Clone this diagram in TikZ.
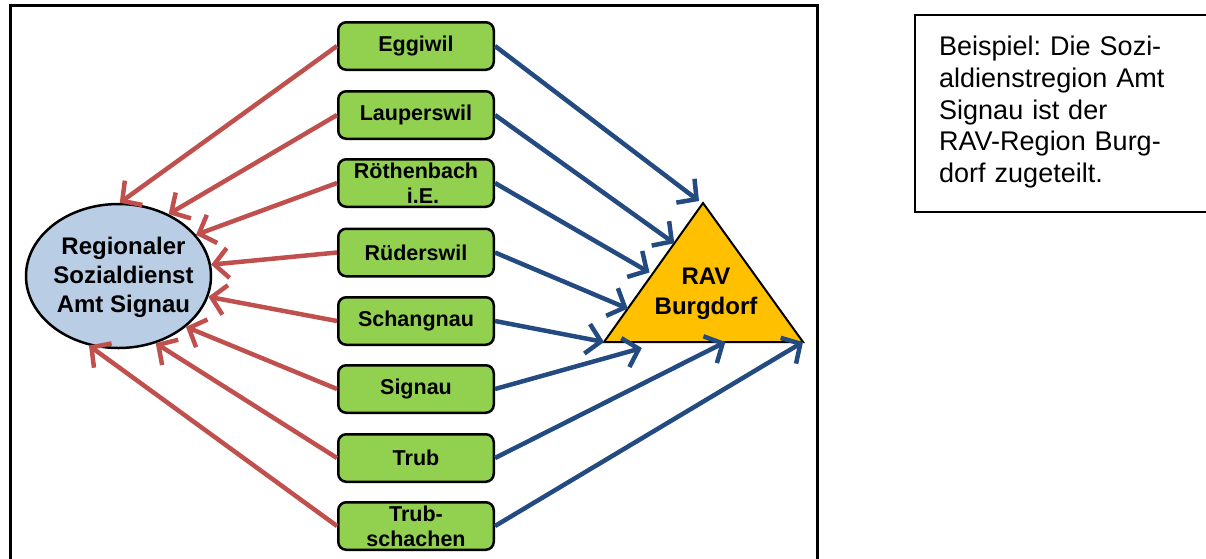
\documentclass[tikz,border=0pt]{standalone}
\usepackage{fontspec}
\setmainfont{Liberation Sans}
\usetikzlibrary{arrows.meta,shapes.geometric,calc}
\definecolor{boxgreen}{RGB}{146,208,80}
\definecolor{ellblue}{RGB}{185,205,229}
\definecolor{trigold}{RGB}{255,192,0}
\definecolor{arrred}{RGB}{192,80,77}
\definecolor{arrblue}{RGB}{35,75,130}
\frenchspacing
\begin{document}
\begin{tikzpicture}[x=1pt,y=-1pt,
  gbox/.style={draw=black, line width=2.5pt, fill=boxgreen, rounded corners=8pt,
    minimum width=155.5pt, minimum height=47.5pt, align=center, inner sep=0pt,
    font=\bfseries\fontsize{21.5}{25}\selectfont},
  redarr/.style={draw=arrred, line width=4.5pt, -{Straight Barb[length=14pt,width=30pt]}},
  bluearr/.style={draw=arrblue, line width=4.5pt, -{Straight Barb[length=14pt,width=30pt]}},
  frameline/.style={draw=black, line width=3pt}]
\useasboundingbox (0,0) rectangle (1206,558);
% outer frame
\draw[frameline] (10,570) -- (10,5) -- (817,5) -- (817,570);
% note frame
\draw[draw=black, line width=1.5pt] (1212,15) -- (915,15) -- (915,212) -- (1212,212);
\node[anchor=north west, text width=275pt, align=left, inner sep=0pt,
  font=\fontsize{27}{31.7}\selectfont] (note) at (939,36)
  {Beispiel: Die Sozi-\\aldienstregion Amt\\Signau ist der\\RAV-Region Burg-\\dorf zugeteilt.};
% boxes
\node[gbox] (egg) at (416,46) {Eggiwil};
\node[gbox] (lau) at (416,115) {Lauperswil};
\node[gbox] (roe) at (416,183) {Röthenbach\\\hspace*{14pt}i.E.};
\node[gbox] (rue) at (416,252.5) {Rüderswil};
\node[gbox] (sch) at (416,321) {Schangnau};
\node[gbox] (sig) at (416,389) {Signau};
\node[gbox] (tru) at (416,458) {Trub};
\node[gbox] (trs) at (416,526) {Trub-\\schachen};
% ellipse
\node[ellipse, draw=black, line width=2.5pt, fill=ellblue, minimum width=185pt,
  minimum height=144pt, inner sep=0pt] (rsd) at (118.5,276) {};
\node[inner sep=0pt, align=center, font=\bfseries\fontsize{24}{29}\selectfont]
  (rsdtext) at (123.5,277) {Regionaler\\Sozialdienst\\Amt Signau};
% triangle
\draw[fill=trigold, line width=2pt, line join=miter]
  (703,203) coordinate (A) -- (803,342) coordinate (BR) -- (604,342) coordinate (BL) -- cycle;
\node[inner sep=0pt, align=center, font=\bfseries\fontsize{24}{30}\selectfont] (rav) at (706,294)
  {RAV\\Burgdorf};
% red arrows
\draw[redarr] (egg.west) -- (rsd.89);
\draw[redarr] (lau.west) -- (rsd.51);
\draw[redarr] (roe.west) -- (rsd.28);
\draw[redarr] (rue.west) -- (rsd.7);
\draw[redarr] (sch.west) -- (rsd.-13.5);
\draw[redarr] (sig.west) -- (rsd.-37);
\draw[redarr] (tru.west) -- (rsd.-61);
\draw[redarr] (trs.west) -- (rsd.247.5);
% blue arrows
\draw[bluearr] (egg.east) -- ($(A)+(-4,-2)$);
\draw[bluearr] (lau.east) -- ($(BL)!0.71!(A)$);
\draw[bluearr] (roe.east) -- ($(BL)!0.5!(A)+(-4,0)$);
\draw[bluearr] (rue.east) -- ($(BL)!0.24!(A)$);
\draw[bluearr] (sch.east) -- (BL);
\draw[bluearr] (sig.east) -- ($(BL)!0.19!(BR)+(0,6)$);
\draw[bluearr] (tru.east) -- ($(BL)!0.61!(BR)$);
\draw[bluearr] (trs.east) -- (BR);
\end{tikzpicture}
\end{document}
